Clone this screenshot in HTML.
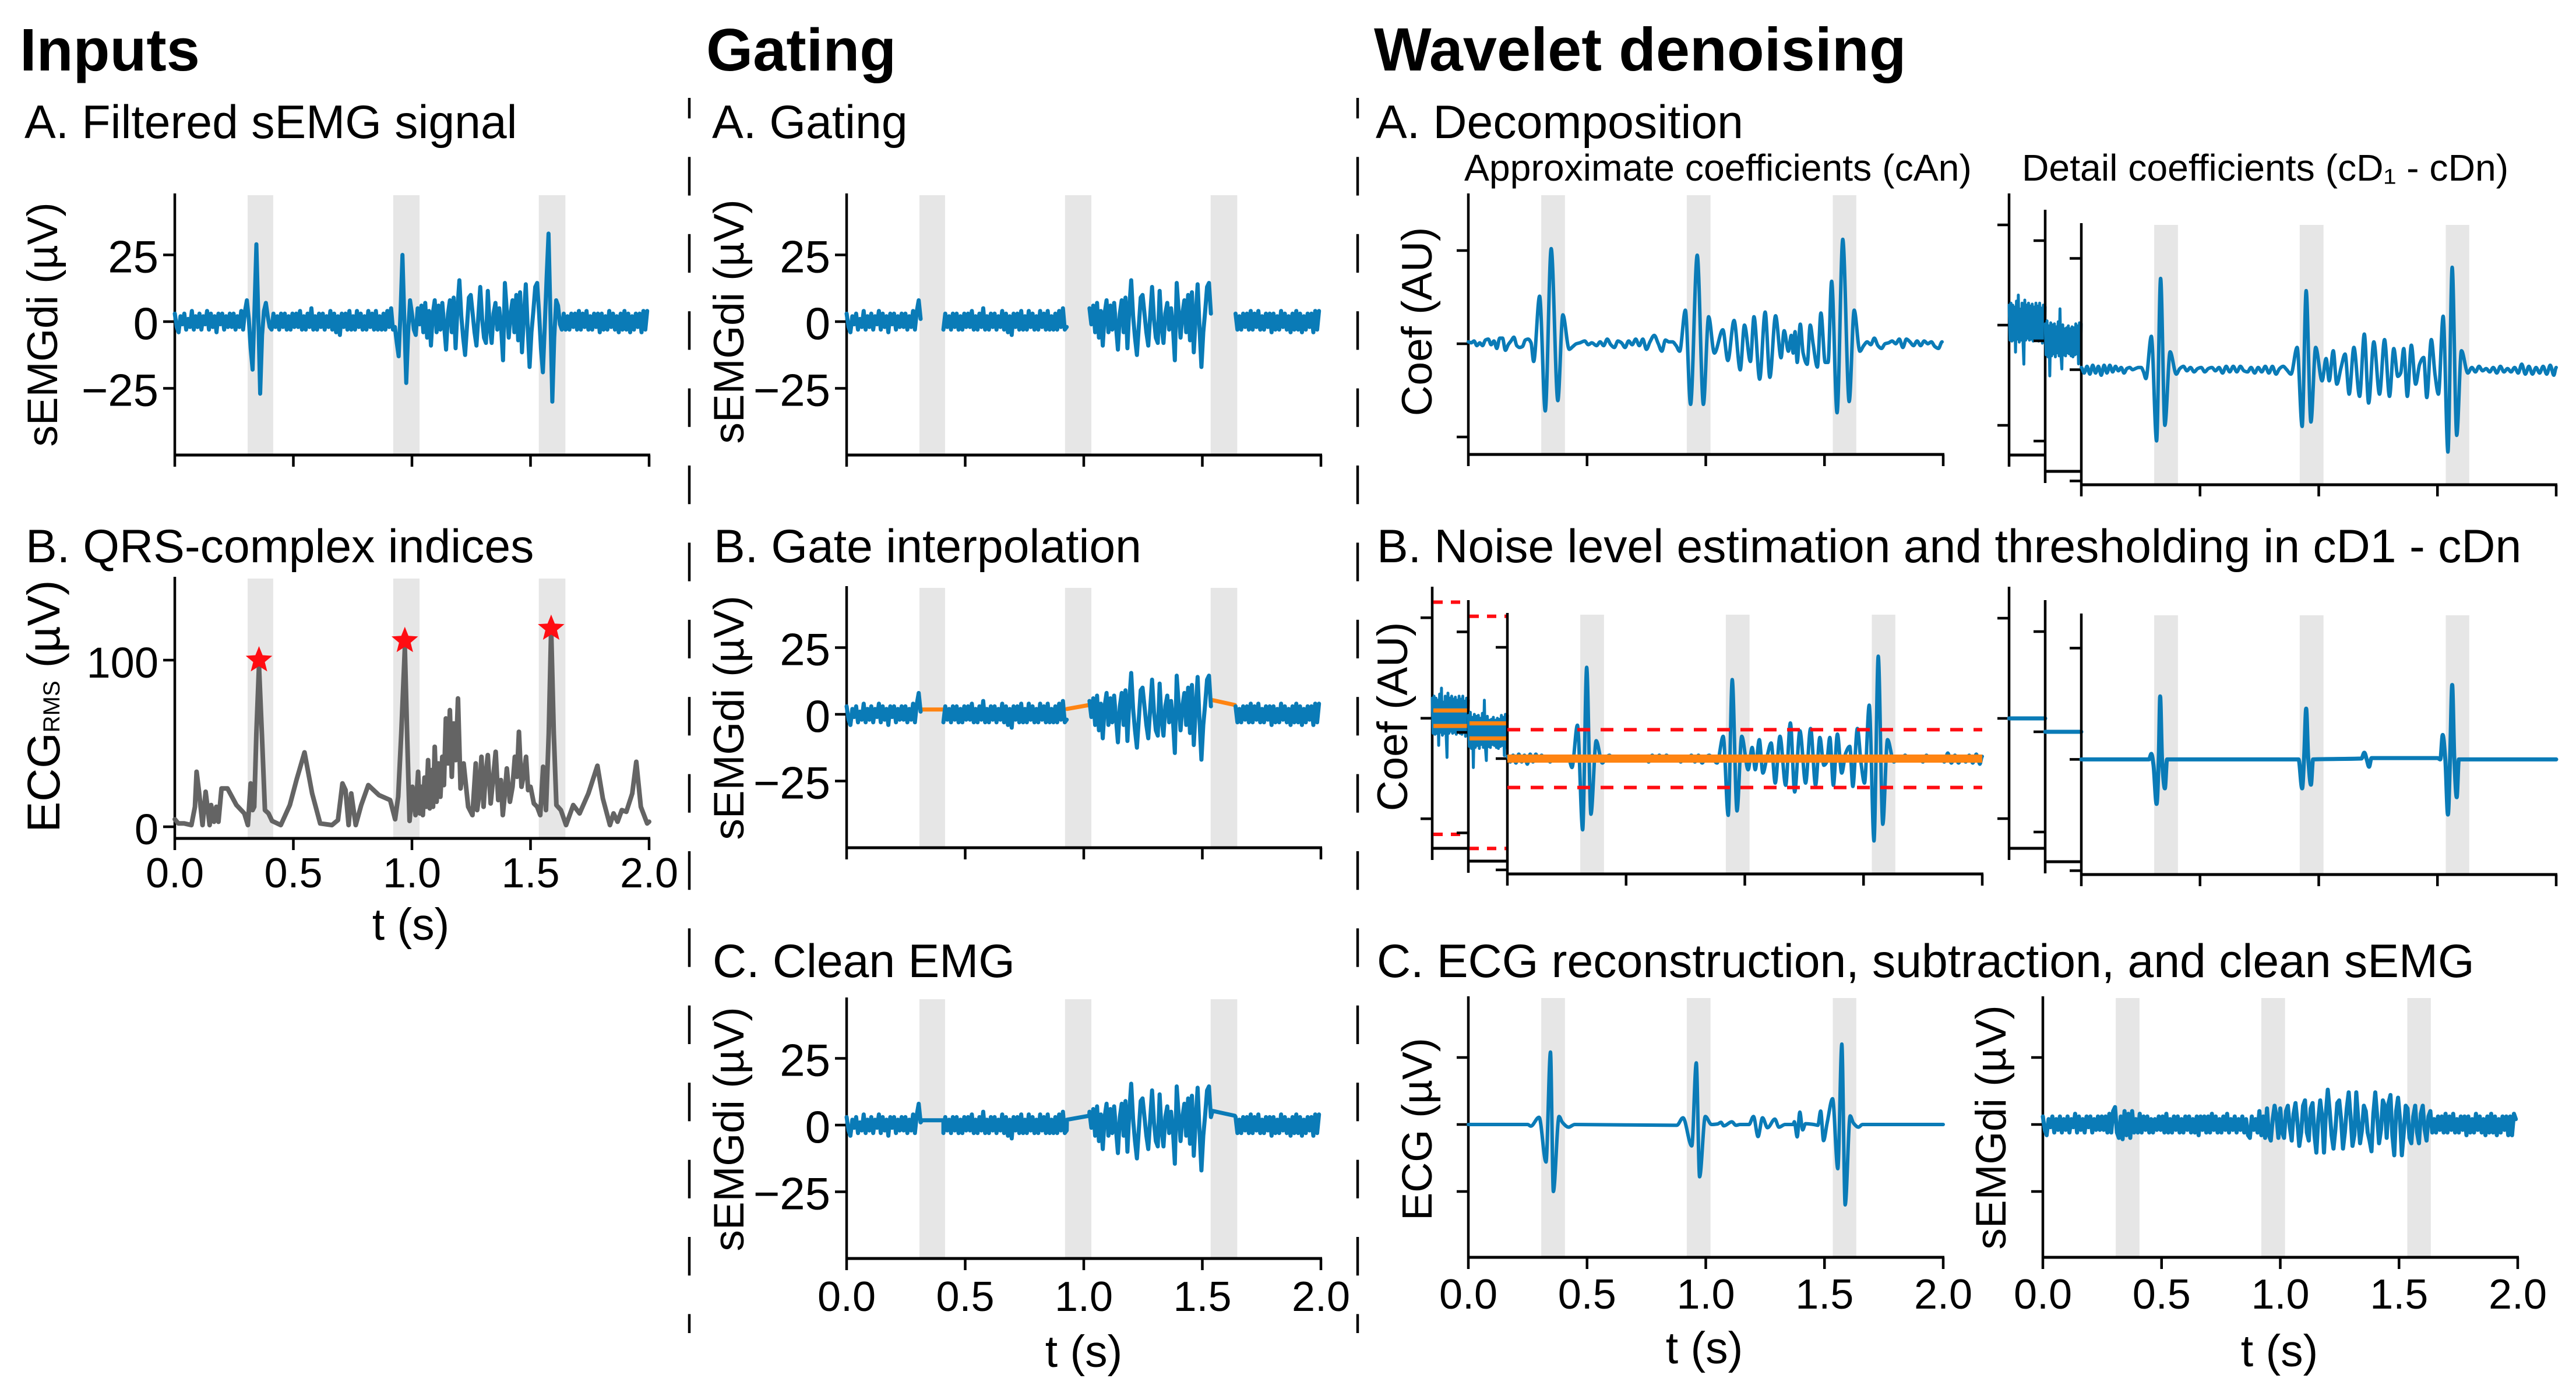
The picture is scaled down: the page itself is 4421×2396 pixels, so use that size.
<!DOCTYPE html>
<html lang="en">
<head>
<meta charset="utf-8">
<title>sEMG ECG removal: inputs, gating and wavelet denoising</title>
<style>
html,body{margin:0;padding:0;background:#fff;}
svg{display:block;font-family:"Liberation Sans",Arial,sans-serif;}
</style>
</head>
<body>
<svg id="figure" xmlns="http://www.w3.org/2000/svg" width="4421" height="2396" viewBox="0 0 4421 2396">
<rect x="0" y="0" width="4421" height="2396" fill="#ffffff"/>
<line x1="1183" y1="168" x2="1183" y2="2288" stroke="#000" stroke-width="4.5" stroke-dasharray="66.2 66.2" stroke-dashoffset="31"/>
<line x1="2330" y1="168" x2="2330" y2="2288" stroke="#000" stroke-width="4.5" stroke-dasharray="66.2 66.2" stroke-dashoffset="31"/>
<text x="34" y="121" font-size="103" font-weight="700">Inputs</text>
<text x="1212" y="121" font-size="103" font-weight="700">Gating</text>
<text x="2358" y="121" font-size="104.5" font-weight="700">Wavelet denoising</text>
<text x="42" y="237" font-size="80.5">A. Filtered sEMG signal</text>
<text x="44" y="965" font-size="80.5">B. QRS-complex indices</text>
<text x="1222" y="237" font-size="80.5">A. Gating</text>
<text x="1225" y="965" font-size="80.5">B. Gate interpolation</text>
<text x="1223" y="1677" font-size="80.5">C. Clean EMG</text>
<text x="2361" y="237" font-size="80.5">A. Decomposition</text>
<text x="2513" y="310" font-size="64.3">Approximate coefficients (cAn)</text>
<text x="3470" y="310" font-size="64.3">Detail coefficients (cD₁ - cDn)</text>
<text x="2363" y="965" font-size="80.5">B. Noise level estimation and thresholding in cD1 - cDn</text>
<text x="2363" y="1677" font-size="80.5">C. ECG reconstruction, subtraction, and clean sEMG</text>
<text transform="translate(98 557) rotate(-90)" text-anchor="middle" font-size="73">sEMGdi (µV)</text>
<text transform="translate(102 1212) rotate(-90)" text-anchor="middle" font-size="79">ECG<tspan font-size="40">RMS</tspan> (µV)</text>
<text transform="translate(1276 552) rotate(-90)" text-anchor="middle" font-size="73">sEMGdi (µV)</text>
<text transform="translate(1276 1232) rotate(-90)" text-anchor="middle" font-size="73">sEMGdi (µV)</text>
<text transform="translate(1276 1938) rotate(-90)" text-anchor="middle" font-size="73">sEMGdi (µV)</text>
<text transform="translate(2457 552) rotate(-90)" text-anchor="middle" font-size="73">Coef (AU)</text>
<text transform="translate(2415 1230) rotate(-90)" text-anchor="middle" font-size="73">Coef (AU)</text>
<text transform="translate(2457 1938) rotate(-90)" text-anchor="middle" font-size="72">ECG (µV)</text>
<text transform="translate(3442 1935) rotate(-90)" text-anchor="middle" font-size="73">sEMGdi (µV)</text>
<text x="705" y="1613" text-anchor="middle" font-size="77">t (s)</text>
<text x="1860" y="2346" text-anchor="middle" font-size="77">t (s)</text>
<text x="2925" y="2340" text-anchor="middle" font-size="77">t (s)</text>
<text x="3912" y="2345" text-anchor="middle" font-size="77">t (s)</text>
</svg>
<script>
// ---- shared tick data
const timeTicks = [0, 0.5, 1, 1.5, 2];
const timeTickLabels = ['0.0', '0.5', '1.0', '1.5', '2.0'];
const emgTicks = [-25, 0, 25];
const emgTickLabels = ['\u221225', '0', '25'];
const rmsTicks = [0, 100];
const rmsTickLabels = ['0', '100'];
const coefTicks = [-1, 0, 1];

// ---- gate windows (seconds)
const gateStartsA = [0.307, 0.921, 1.535];
const gateEndsA = [0.415, 1.032, 1.647];
const gateStartsB = [0.307, 0.92, 1.535];
const gateEndsB = [0.407, 1.02, 1.634];
const holeStarts = [0.318, 0.929, 1.543];
const holeEnds = [0.408, 1.023, 1.637];
const interpStartValues = [1.8, 2, 5.3];
const interpEndValues = [1.8, 3.5, 3.5];

// ---- raw sEMG, one sample each 8 ms (25 samples per row)
const semgValues = [
3,-2,-4,2,-1,3,-3,1,-2,4,-3,2,-2,3,-3,2,-1,4,-3,3,-2,2,-4,3,-1,
3,-3,2,-2,3,-2,3,-3,2,-2,4,-3,4,8,1,-10,-18,5,29,2,-27,-5,4,7,2,
-2,-3,3,-2,2,-3,3,-2,3,-3,2,-3,3,-2,3,-2,4,-3,2,-3,3,-2,5,-3,2,
-3,3,-2,3,-3,2,-2,4,-3,3,-4,2,-5,3,-2,3,-3,4,-3,2,-3,4,-2,3,-3,
2,-3,4,-2,3,-3,4,-3,2,-3,3,-3,4,-2,5,-3,-2,-8,-13,4,25,0,-23,-4,8,
3,-3,-5,5,-1,6,-4,7,-6,4,-9,3,8,-4,6,-3,7,-2,-10.5,3,8,-4,9,-10,5,
15.5,2,-6,-12.5,-2,9,10,3,-4,-9,2,13,1,-6,-8,11.5,-2,-8,3,7,-3,5,-2,-14.5,14.5,
4,-6,3,8,-4,10,-7,11,-11.5,2,14,-2,-17,-4,4,13,14.5,3,-10,-19,-2,17,33,2,-30,
-6,8,6,-1,-3,3,-3,2,-3,3,-2,3,-3,4,-3,3,-2,4,-3,2,-3,3,-2,3,-4,
3,-3,2,-3,4,-2,3,-3,2,-4,3,-3,4,-3,3,-4,2,-3,3,-2,3,-4,4,-3,4
];

// ---- clean sEMG after subtraction, one sample each 8 ms
const cleanValues = [
3,-2,-4,2,-1,3,-3,2,-2,3,-3,2,-2,3,-3,2,-1,4,-3,3,-2,2,-3,3,-1,
3,-3,2,-2,3,-2,3,-2,3,-3,4,-3,5,6.5,-3,-5,3,-5.5,5,-4,4,-5,5,-3,2,
-3,4,-3,3,-2,3,-3,2,-3,2,-2,3,-2,3,-3,4,-3,2,-3,3,-2,3,-3,2,-3,
3,-2,3,-3,2,-3,3,-4,3,-2,3,-3,3,-3,4,-2,3,-3,2,-3,3,-2,4,-3,2,
-2,3,-3,2,-2,3,-3,2,-4,-5,3,-2,2,-3,5,-4,3,-5,6,-4,-6,2,7,3,-5,
6,-3,-5,5,7,-1,-6,4,8,1,-8,-3,7,9,-3,-6,6,8,-4,-10.5,2,9,3,-10.5,4,
13,5,-4,-9,-2,8,9,2,-9,-3,6,12,3,-8,-4,12,2,-7,-2,7,5,-3,-6,-10,4,
12,3,-7,-2,9,7,-5,8,11,-4,-11.5,5,10,2,-11.5,-3,7,6,-5,-7,3,7,-3,-7,4,
7,-2,-6,3,5,-3,2,-3,3,-2,3,-3,4,-3,3,-2,4,-3,2,-3,3,-2,3,-4,3,
-3,2,-3,4,-2,3,-3,2,-4,3,-3,4,-3,3,-4,2,-3,3,-2,3,-4,3,-4,4,2
];

// ---- ECG RMS envelope (rows of ten, times and values line up row by row)
const rmsTimes = [
0,.015,.04,.07,.085,.092,.103,.117,.13,.147,
.153,.165,.175,.184,.197,.222,.26,.293,.308,.32,
.328,.335,.344,.355,.367,.38,.395,.41,.447,.485,
.513,.547,.579,.613,.663,.688,.707,.72,.733,.744,
.763,.786,.816,.861,.908,.929,.942,.955,.97,.979,
.99,1.002,1.015,1.026,1.033,1.039,1.046,1.053,1.06,1.068,
1.075,1.082,1.089,1.096,1.104,1.112,1.12,1.128,1.135,1.143,
1.152,1.16,1.168,1.176,1.185,1.194,1.205,1.218,1.237,1.255,
1.269,1.275,1.284,1.293,1.302,1.31,1.32,1.332,1.343,1.353,
1.364,1.375,1.383,1.392,1.4,1.413,1.424,1.434,1.443,1.451,
1.462,1.472,1.481,1.49,1.5,1.514,1.528,1.541,1.553,1.565,
1.577,1.587,1.598,1.609,1.628,1.65,1.68,1.707,1.744,1.782,
1.805,1.835,1.85,1.867,1.885,1.904,1.929,1.946,1.965,1.992,
2];
const rmsValues = [
4.5,2,2,1,12,33,20,1,21,1,
13,3,12,3,23,23,13,8,1,26,
10,12,56,96.5,56,10,8,3.5,1,13,
28,44.6,20,2,1,4,26,22,1,20,
1,13,25,19,16,4.5,18,56,107,58,
3.5,24,7,33,8,24,7,29.5,12,40,
11,34,12,48,15,38,18,42,25,65,
38,70,30,62,40,77,23,38,12,7,
38,10,20,42,12,30,43,14,30,45,
16,28,7,20,35,15,24,42,30,57,
24,32,42,22,24,14,12,7,36,10,
56,118.7,56,13,10,1,13,8,20,36.6,
17,1,8,3,10,9,20,39,12,2,
3];
const starTimes = [0.355, 0.97, 1.587];
const starValues = [100, 111.6, 119];

// ---- approximation coefficients cAn
const cATimes = [0,.012,.024,.036,.048,.06,.072,.084,.096,.108,.12,.132,.144,.156,.168,.18,.192,.204,.216,.228,.24,.252,.264,.275,.30,.324,.349,.377,.398,.425,.44,.455,.47,.49,.505,.52,.54,.555,.57,.585,.6,.615,.63,.645,.66,.675,.69,.705,.72,.735,.75,.765,.783,.80,.815,.83,.845,.86,.875,.89,.914,.936,.964,.99,1.012,1.036,1.072,1.093,1.119,1.145,1.163,1.188,1.203,1.227,1.25,1.27,1.294,1.317,1.33,1.348,1.36,1.368,1.376,1.385,1.398,1.41,1.427,1.44,1.452,1.47,1.485,1.503,1.515,1.53,1.553,1.577,1.604,1.625,1.649,1.665,1.68,1.695,1.71,1.725,1.74,1.755,1.77,1.785,1.8,1.815,1.83,1.845,1.86,1.875,1.89,1.905,1.92,1.935,1.95,1.965,1.98,1.995];
const cAValues = [.02,.01,.03,-.02,.01,-.02,.04,.05,-.01,.03,-.05,.06,.06,-.07,-.01,.03,.07,-.02,-.04,-.03,.04,.05,.01,-.19,.51,-.72,1.02,-.61,.31,-.06,-.03,0,.01,.03,-.01,.01,-.02,.02,-.02,.05,-.01,-.04,.03,.01,-.04,.03,-.01,.05,-.02,.05,-.06,.02,.09,0,-.08,.04,.02,.02,-.02,-.08,.36,-.65,.95,-.65,.29,-.1,.15,-.18,.25,-.28,.2,-.19,.29,-.38,.34,-.36,.3,-.15,.14,-.08,.09,-.1,.13,-.2,.21,-.1,-.22,.2,0,-.25,.33,-.2,-.2,.67,-.74,1.12,-.62,.36,-.08,-.02,.02,-.01,.06,-.02,-.05,0,.01,.03,0,.05,-.04,.05,.02,-.02,.03,-.02,.03,0,.02,-.03,-.05,.02];

// ---- detail coefficients cD1 and cD2 (compressed side plots)
const cD1Values = [.2,-.15,.22,-.16,.2,-.15,.18,-.27,.24,-.14,.3,-.17,.16,-.15,.22,-.14,-.39,.25,-.15,.2,-.13,.22,-.15,.19,-.14,.21,-.16,.18,-.13,.22,-.15,.19,-.16,.22,-.14,.17,-.18,.2,-.15,.18];
const cD2Values = [.17,-.14,.2,-.16,.15,-.35,.18,-.15,.16,-.13,.17,-.16,.14,-.12,.19,-.15,.32,-.14,-.28,.16,-.14,.12,-.15,.13,-.12,.15,-.13,.12,-.15,.14,-.16,.13,-.14,.17,-.13,.15,-.23,.18,-.15,.17];

// ---- detail coefficient cD3 (main plot)
const cD3Times = [0,.012,.024,.036,.048,.06,.072,.084,.096,.108,.12,.132,.144,.156,.168,.18,.192,.204,.216,.228,.24,.252,.262,.272,.295,.317,.334,.352,.374,.4,.415,.43,.445,.46,.475,.49,.505,.52,.535,.55,.565,.58,.595,.61,.625,.64,.655,.67,.685,.7,.715,.73,.745,.76,.775,.79,.805,.82,.835,.85,.865,.883,.909,.93,.947,.967,.987,1.014,1.031,1.044,1.061,1.076,1.094,1.111,1.128,1.148,1.172,1.192,1.21,1.232,1.256,1.277,1.298,1.316,1.333,1.345,1.358,1.373,1.39,1.408,1.425,1.442,1.455,1.474,1.49,1.504,1.524,1.544,1.562,1.581,1.601,1.628,1.645,1.66,1.675,1.69,1.705,1.72,1.735,1.75,1.765,1.78,1.795,1.81,1.825,1.84,1.855,1.87,1.885,1.9,1.915,1.93,1.945,1.96,1.975,1.99,2];
const cD3Values = [.02,-.03,.03,-.04,.04,-.03,.03,-.05,.04,-.03,.04,-.02,.03,-.01,.02,-.03,.01,.02,0,.01,.02,.02,-.02,-.08,.3,-.64,.82,-.5,.16,-.04,.01,.03,-.01,.02,-.02,.01,.02,-.02,.01,.02,-.01,.02,-.03,.03,-.02,.03,-.02,.03,-.01,-.02,.02,-.03,.02,-.02,.03,-.03,.03,-.04,.01,.03,0,-.04,.2,-.51,.71,-.47,.2,-.1,.1,-.1,.17,-.13,.02,.14,-.22,.2,-.24,.32,-.3,.25,-.22,.27,-.24,.19,-.06,-.03,.19,-.24,.22,-.13,.05,.11,-.25,.27,-.05,-.22,.48,-.74,.92,-.59,.17,-.03,.02,-.02,.03,-.01,.01,-.02,.02,-.03,.03,-.02,.01,-.02,.02,-.03,.05,-.04,.03,-.04,.02,-.03,.03,-.04,.04,-.05,.02];
const noiseBands = [0.077, -0.077];
const noiseBandsLevel2 = [0.09, -0.06];
const thresholdValue = 0.26;
const thresholdValueLevel1 = 1.155;
const thresholdValueLevel2 = 1.155;

// ---- thresholded cD3
const thresholdedTimes = [0,.285,.295,.304,.317,.326,.332,.34,.352,.361,.37,.915,.93,.938,.947,.956,.967,.976,1.18,1.192,1.202,1.212,1.222,1.232,1.5,1.512,1.522,1.533,1.544,1.553,1.562,1.571,1.581,1.59,2];
const thresholdedValues = [0,0,.05,-.05,-.4,0,.566,0,-.26,0,0,0,-.26,0,.456,0,-.227,0,.008,.06,0,-.066,.012,.012,.012,0,.22,0,-.496,0,.669,0,-.34,0,0];

// ---- reconstructed ECG (µV)
const ecgTimes = [0,.25,.263,.298,.327,.346,.358,.382,.396,.422,.448,.878,.904,.941,.96,.974,.998,1.024,1.05,1.064,1.076,1.11,1.127,1.144,1.182,1.201,1.22,1.239,1.26,1.291,1.308,1.334,1.368,1.373,1.385,1.396,1.408,1.42,1.455,1.472,1.484,1.496,1.511,1.534,1.556,1.573,1.587,1.608,1.622,1.643,1.66,2];
const ecgValues = [0,0,-.6,2.7,-14,27,-25,3,.8,-1,0,-.3,2.5,-8,23,-19.5,3,0,.2,.8,-.5,1,-.3,0,0,3,-4.5,2.5,-1.2,2,-1,0,0,1,-4.6,4.6,-2,.3,0,-.3,5,-6,.5,9.6,-16.5,30,-30,3.2,.5,-1,0,0];

// ---- drawing helpers
const svgEl = document.getElementById('figure');
const NS = 'http://www.w3.org/2000/svg';
const BLUE = '#0a7bb7';
const ORANGE = '#ff8412';
const RED = '#ff0d12';

function makeScale(p) {
  return {
    x: function (t) { return p.x0 + (t / 2) * (p.x1 - p.x0); },
    y: function (v) { return p.zero - v * p.unit; }
  };
}
function addLine(parent, name, x1, y1, x2, y2, color, width, dash) {
  const el = document.createElementNS(NS, 'line');
  
  
  el.setAttribute('x1', x1);
  el.setAttribute('y1', y1);
  el.setAttribute('x2', x2);
  el.setAttribute('y2', y2);
  el.setAttribute('stroke', color);
  el.setAttribute('stroke-width', width);
  if (dash) el.setAttribute('stroke-dasharray', dash);
  parent.appendChild(el);
  return el;
}
function addText(parent, name, x, y, str, size, anchor) {
  const el = document.createElementNS(NS, 'text');
  
  
  el.setAttribute('x', x);
  el.setAttribute('y', y);
  el.setAttribute('font-size', size);
  el.setAttribute('text-anchor', anchor);
  el.textContent = str;
  parent.appendChild(el);
  return el;
}
function addTrace(parent, name, scale, ts, vs, color, width, opacity) {
  const el = document.createElementNS(NS, 'polyline');
  
  
  const pts = [];
  const n = Math.min(ts.length, vs.length);
  for (let i = 0; i < n; i++) pts.push(scale.x(ts[i]).toFixed(1) + ',' + scale.y(vs[i]).toFixed(1));
  el.setAttribute('points', pts.join(' '));
  el.setAttribute('fill', 'none');
  el.setAttribute('stroke', color);
  el.setAttribute('stroke-width', width);
  el.setAttribute('stroke-linejoin', 'round');
  el.setAttribute('stroke-linecap', 'round');
  if (opacity) el.setAttribute('stroke-opacity', opacity);
  parent.appendChild(el);
  return el;
}
// Monotone cubic through the data points: peaks stay at their values, flat runs stay flat.
function addSmoothTrace(parent, name, scale, ts, vs, color, width) {
  const el = document.createElementNS(NS, 'path');
  
  
  const n = Math.min(ts.length, vs.length);
  const X = [];
  const Y = [];
  for (let i = 0; i < n; i++) { X.push(scale.x(ts[i])); Y.push(scale.y(vs[i])); }
  const slopes = [];
  for (let i = 0; i < n - 1; i++) slopes.push((Y[i + 1] - Y[i]) / (X[i + 1] - X[i]));
  const tangents = [0];
  for (let i = 1; i < n - 1; i++) {
    const a = slopes[i - 1];
    const b = slopes[i];
    tangents.push(a * b <= 0 ? 0 : (2 * a * b) / (a + b));
  }
  tangents.push(0);
  let d = 'M' + X[0].toFixed(1) + ' ' + Y[0].toFixed(1);
  for (let i = 0; i < n - 1; i++) {
    const dx = X[i + 1] - X[i];
    const c1x = X[i] + dx / 3;
    const c1y = Y[i] + (tangents[i] * dx) / 3;
    const c2x = X[i + 1] - dx / 3;
    const c2y = Y[i + 1] - (tangents[i + 1] * dx) / 3;
    d += 'C' + c1x.toFixed(1) + ' ' + c1y.toFixed(1) + ' ' + c2x.toFixed(1) + ' ' + c2y.toFixed(1) + ' ' + X[i + 1].toFixed(1) + ' ' + Y[i + 1].toFixed(1);
  }
  el.setAttribute('d', d);
  el.setAttribute('fill', 'none');
  el.setAttribute('stroke', color);
  el.setAttribute('stroke-width', width);
  el.setAttribute('stroke-linejoin', 'round');
  el.setAttribute('stroke-linecap', 'round');
  parent.appendChild(el);
  return el;
}
function makeGroup(name) {
  const g = document.createElementNS(NS, 'g');
  
  
  svgEl.appendChild(g);
  return g;
}
function addGates(g, p, starts, ends) {
  const s = makeScale(p);
  for (let i = 0; i < starts.length; i++) {
    const r = document.createElementNS(NS, 'rect');
    
    
    r.setAttribute('x', s.x(starts[i]));
    r.setAttribute('y', p.top + 3);
    r.setAttribute('width', s.x(ends[i]) - s.x(starts[i]));
    r.setAttribute('height', p.bottom - p.top - 3);
    r.setAttribute('fill', '#e6e6e6');
    g.appendChild(r);
  }
}
function addAxes(g, p, yTicks, yLabels, opts) {
  const s = makeScale(p);
  const o = opts || {};
  addLine(g, 'y-axis-line', p.x0, p.top, p.x0, p.bottom, '#000', 4.5);
  addLine(g, 'x-axis-line', p.x0 - 2, p.bottom, p.x1 + 2, p.bottom, '#000', 5);
  const xt = o.xTicks || timeTicks;
  for (let i = 0; i < xt.length; i++) {
    const xx = s.x(xt[i]);
    addLine(g, 'x-tick', xx, p.bottom, xx, p.bottom + 20, '#000', 4.5);
    if (o.xLabels) addText(g, 'x-tick-label', xx, o.xLabelY, o.xLabels[i], 72, 'middle');
  }
  for (let i = 0; i < yTicks.length; i++) {
    const yy = s.y(yTicks[i]);
    addLine(g, 'y-tick', p.x0 - 20, yy, p.x0, yy, '#000', 4.5);
    if (yLabels) addText(g, 'y-tick-label', p.x0 - 28, yy + 30, yLabels[i], o.yLabelSize || 78, 'end');
  }
}
function uniformTimes(values) {
  const out = [];
  for (let i = 0; i < values.length; i++) out.push(i * 0.008);
  return out;
}
function indexTimes(values) {
  const out = [];
  for (let i = 0; i < values.length; i++) out.push((i / (values.length - 1)) * 2);
  return out;
}
function segmentsOutsideHoles() {
  const ts = uniformTimes(semgValues);
  const segs = [];
  let cur = { t: [], v: [] };
  let h = 0;
  for (let i = 0; i < ts.length; i++) {
    if (h < holeStarts.length && ts[i] >= holeStarts[h]) {
      segs.push(cur);
      cur = { t: [], v: [] };
      if (ts[i] < holeEnds[h]) { continue; }
    }
    if (h < holeStarts.length && ts[i] >= holeEnds[h]) h++;
    if (h < holeStarts.length && ts[i] >= holeStarts[h]) continue;
    cur.t.push(ts[i]);
    cur.v.push(semgValues[i]);
  }
  segs.push(cur);
  return segs.filter(function (s) { return s.t.length > 0; });
}

// ---- panels
const emgUnit = 4.58;
const rawWidth = 7;
const coefWidth = 6;

// Inputs A
(function () {
  const p = { x0: 300, x1: 1114, top: 332, bottom: 781, zero: 552, unit: emgUnit };
  const g = makeGroup('inputs-a-panel');
  addGates(g, p, gateStartsA, gateEndsA);
  addAxes(g, p, emgTicks, emgTickLabels);
  addTrace(g, 'filtered-semg-trace', makeScale(p), uniformTimes(semgValues), semgValues, BLUE, rawWidth);
})();

// Inputs B
(function () {
  const p = { x0: 300, x1: 1114, top: 990, bottom: 1439, zero: 1419, unit: 2.86 };
  const g = makeGroup('inputs-b-panel');
  const s = makeScale(p);
  addGates(g, p, gateStartsA, gateEndsA);
  addAxes(g, p, rmsTicks, rmsTickLabels, { xLabels: timeTickLabels, xLabelY: 1523, yLabelSize: 74 });
  addTrace(g, 'ecg-rms-trace', s, rmsTimes, rmsValues, '#5c5c5c', 8, 0.95);
  for (let i = 0; i < starTimes.length; i++) {
    const cx = s.x(starTimes[i]);
    const cy = s.y(starValues[i]);
    const pts = [];
    for (let k = 0; k < 10; k++) {
      const r = k % 2 === 0 ? 24 : 10.5;
      const a = -Math.PI / 2 + (k * Math.PI) / 5;
      pts.push((cx + r * Math.cos(a)).toFixed(1) + ',' + (cy + r * Math.sin(a)).toFixed(1));
    }
    const star = document.createElementNS(NS, 'polygon');
    
    
    star.setAttribute('points', pts.join(' '));
    star.setAttribute('fill', RED);
    g.appendChild(star);
  }
})();

// Gating A
(function () {
  const p = { x0: 1453, x1: 2267, top: 332, bottom: 781, zero: 552, unit: emgUnit };
  const g = makeGroup('gating-a-panel');
  addGates(g, p, gateStartsA, gateEndsA);
  addAxes(g, p, emgTicks, emgTickLabels);
  const s = makeScale(p);
  segmentsOutsideHoles().forEach(function (seg) {
    addTrace(g, 'gated-semg-trace', s, seg.t, seg.v, BLUE, rawWidth);
  });
})();

// Gating B
(function () {
  const p = { x0: 1453, x1: 2267, top: 1006, bottom: 1455, zero: 1226, unit: emgUnit };
  const g = makeGroup('gating-b-panel');
  addGates(g, p, gateStartsA, gateEndsA);
  addAxes(g, p, emgTicks, emgTickLabels);
  const s = makeScale(p);
  for (let i = 0; i < holeStarts.length; i++) {
    addTrace(g, 'gate-interpolation-trace', s, [holeStarts[i], holeEnds[i]], [interpStartValues[i], interpEndValues[i]], ORANGE, 7);
  }
  segmentsOutsideHoles().forEach(function (seg) {
    addTrace(g, 'gated-semg-trace', s, seg.t, seg.v, BLUE, rawWidth);
  });
})();

// Gating C
(function () {
  const p = { x0: 1453, x1: 2267, top: 1712, bottom: 2160, zero: 1931, unit: emgUnit };
  const g = makeGroup('gating-c-panel');
  addGates(g, p, gateStartsA, gateEndsA);
  addAxes(g, p, emgTicks, emgTickLabels, { xLabels: timeTickLabels, xLabelY: 2250 });
  const ts = [];
  const vs = [];
  const segs = segmentsOutsideHoles();
  segs.forEach(function (seg, i) {
    seg.t.forEach(function (t, k) { ts.push(t); vs.push(seg.v[k]); });
    if (i < holeStarts.length) {
      ts.push(holeStarts[i]); vs.push(interpStartValues[i]);
      ts.push(holeEnds[i]); vs.push(interpEndValues[i]);
    }
  });
  addTrace(g, 'clean-emg-trace', makeScale(p), ts, vs, BLUE, rawWidth);
})();

// Wavelet A - approximate coefficients
(function () {
  const p = { x0: 2520, x1: 3335, top: 332, bottom: 780, zero: 590, unit: 160 };
  const g = makeGroup('approx-coefficients-panel');
  addGates(g, p, gateStartsB, gateEndsB);
  addAxes(g, p, coefTicks, null);
  addSmoothTrace(g, 'approx-coefficient-trace', makeScale(p), cATimes, cAValues, BLUE, coefWidth);
})();

// Compressed side axis shared by wavelet A and B
function sideAxis(name, p, values, traceName, bands, thresh) {
  const g = makeGroup(name);
  const s = makeScale(p);
  addLine(g, 'side-y-axis-line', p.x0, p.top, p.x0, p.bottom + 20, '#000', 4.5);
  addLine(g, 'side-x-axis-line', p.x0, p.bottom, p.x1, p.bottom, '#000', 5);
  coefTicks.forEach(function (v) {
    addLine(g, 'side-y-tick', p.x0 - 20, s.y(v), p.x0, s.y(v), '#000', 4.5);
  });
  if (values) {
    addTrace(g, traceName, s, indexTimes(values), values, BLUE, 5);
  } else {
    addTrace(g, traceName, s, [0, 2], [0, 0], BLUE, 7);
  }
  if (bands) {
    bands.forEach(function (v) {
      addLine(g, 'noise-level-line', p.x0 + 2, s.y(v), p.x1 - 2, s.y(v), ORANGE, 7);
    });
  }
  if (thresh) {
    addLine(g, 'threshold-line', p.x0 + 2, s.y(thresh), p.x1, s.y(thresh), RED, 6, '16 14');
    addLine(g, 'threshold-line', p.x0 + 2, s.y(-thresh), p.x1, s.y(-thresh), RED, 6, '16 14');
  }
}

// Wavelet A - detail coefficients
sideAxis('detail-cd1-axis', { x0: 3448, x1: 3510, top: 332, bottom: 781, zero: 558, unit: 172 }, cD1Values, 'cd1-trace');
sideAxis('detail-cd2-axis', { x0: 3510, x1: 3572, top: 360, bottom: 809, zero: 585, unit: 172 }, cD2Values, 'cd2-trace');
(function () {
  const p = { x0: 3572, x1: 4387, top: 383, bottom: 832, zero: 634.5, unit: 191 };
  const g = makeGroup('detail-coefficients-panel');
  addGates(g, p, gateStartsB, gateEndsB);
  addAxes(g, p, coefTicks, null);
  addSmoothTrace(g, 'cd3-trace', makeScale(p), cD3Times, cD3Values, BLUE, coefWidth);
})();

// Wavelet B - noise estimation
sideAxis('noise-cd1-axis', { x0: 2458, x1: 2520, top: 1007, bottom: 1456, zero: 1232.7, unit: 172.5 }, cD1Values, 'cd1-noise-trace', noiseBands, thresholdValueLevel1);
sideAxis('noise-cd2-axis', { x0: 2520, x1: 2587, top: 1030, bottom: 1478, zero: 1257, unit: 172.5 }, cD2Values, 'cd2-noise-trace', noiseBandsLevel2, thresholdValueLevel2);
(function () {
  const p = { x0: 2587, x1: 3402, top: 1052, bottom: 1500, zero: 1302, unit: 191 };
  const g = makeGroup('noise-level-panel');
  const s = makeScale(p);
  addGates(g, p, gateStartsB, gateEndsB);
  addAxes(g, p, coefTicks, null);
  addSmoothTrace(g, 'cd3-noise-trace', s, cD3Times, cD3Values, BLUE, coefWidth);
  addLine(g, 'noise-level-band', p.x0, s.y(0), p.x1, s.y(0), ORANGE, 14);
  addLine(g, 'upper-threshold-line', p.x0, s.y(thresholdValue), p.x1, s.y(thresholdValue), RED, 6, '22 18');
  addLine(g, 'lower-threshold-line', p.x0, s.y(-thresholdValue), p.x1, s.y(-thresholdValue), RED, 6, '22 18');
})();

// Wavelet B - thresholded
sideAxis('thresholded-cd1-axis', { x0: 3448, x1: 3510, top: 1007, bottom: 1456, zero: 1233, unit: 172 }, null, 'thresholded-cd1-trace');
sideAxis('thresholded-cd2-axis', { x0: 3510, x1: 3572, top: 1030, bottom: 1479, zero: 1256, unit: 172 }, null, 'thresholded-cd2-trace');
(function () {
  const p = { x0: 3572, x1: 4387, top: 1053, bottom: 1501, zero: 1303.4, unit: 191 };
  const g = makeGroup('thresholded-panel');
  addGates(g, p, gateStartsB, gateEndsB);
  addAxes(g, p, coefTicks, null);
  addSmoothTrace(g, 'thresholded-cd3-trace', makeScale(p), thresholdedTimes, thresholdedValues, BLUE, 7);
})();

// Wavelet C - ECG
(function () {
  const p = { x0: 2520, x1: 3335, top: 1710, bottom: 2158, zero: 1930, unit: 4.6 };
  const g = makeGroup('ecg-reconstruction-panel');
  addGates(g, p, gateStartsB, gateEndsB);
  addAxes(g, p, emgTicks, null, { xLabels: timeTickLabels, xLabelY: 2246 });
  addSmoothTrace(g, 'reconstructed-ecg-trace', makeScale(p), ecgTimes, ecgValues, BLUE, coefWidth);
})();

// Wavelet C - clean sEMG
(function () {
  const p = { x0: 3506, x1: 4321, top: 1710, bottom: 2158, zero: 1930, unit: 4.6 };
  const g = makeGroup('clean-semg-panel');
  addGates(g, p, gateStartsB, gateEndsB);
  addAxes(g, p, emgTicks, null, { xLabels: timeTickLabels, xLabelY: 2246 });
  addTrace(g, 'clean-semg-trace', makeScale(p), uniformTimes(cleanValues), cleanValues, BLUE, rawWidth);
})();
</script>
</body>
</html>
